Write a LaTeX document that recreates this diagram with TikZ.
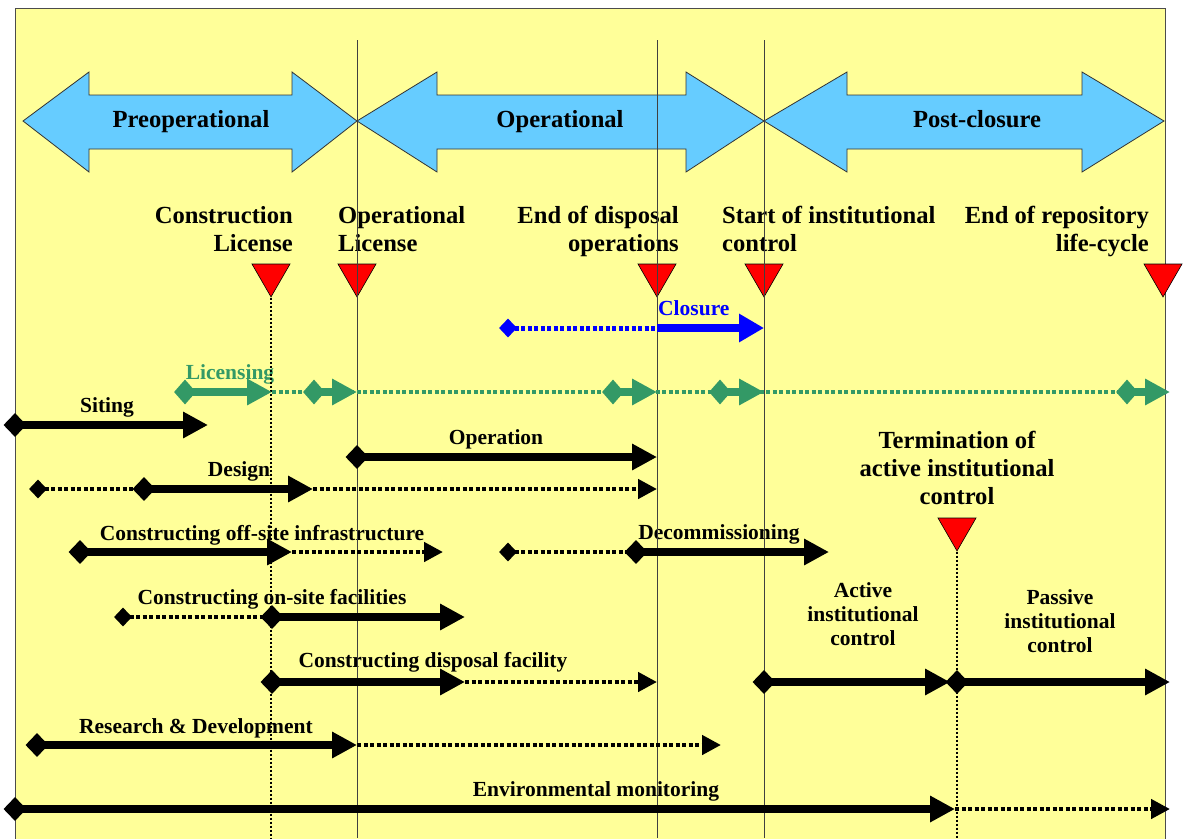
\documentclass[tikz,border=0pt]{standalone}
\usepackage{fontspec}
\setmainfont{Liberation Serif}
\usepackage{xcolor}
\usetikzlibrary{arrows.meta,shapes.geometric}

\definecolor{bgyellow}{HTML}{FFFF99}
\definecolor{phaseblue}{HTML}{66CCFF}
\definecolor{licgreen}{HTML}{339966}

\begin{document}
\begin{tikzpicture}[
x=1pt, y=-1pt,
phase/.style={draw=black!80, fill=phaseblue, line width=0.8pt},
big/.style={font=\fontsize{24.6}{28}\selectfont\bfseries, inner sep=0},
lbl/.style={font=\fontsize{21.5}{24}\selectfont\bfseries, inner sep=0},
milestone/.style={regular polygon, regular polygon sides=3, shape border rotate=180,
  minimum size=43.9pt, inner sep=0, draw=black, fill=red, line width=0.6pt},
evt/.style={diamond, fill=black, minimum width=23pt, minimum height=24pt, inner sep=0},
sevt/.style={diamond, fill=black, minimum width=18pt, minimum height=19pt, inner sep=0},
bar/.style={line width=8pt, -{Triangle[length=25pt, width=25pt]}},
dotline/.style={line width=4.5pt, dash pattern=on 4pt off 2.5pt},
dotarrow/.style={dotline, -{Triangle[length=19pt, width=19pt]}},
gevt/.style={evt, fill=licgreen, minimum width=22pt, minimum height=25pt},
gbar/.style={bar, licgreen},
cevt/.style={sevt, fill=blue},
cbar/.style={blue, line width=8.5pt, -{Triangle[length=25pt, width=27pt]}},
vline/.style={draw=black!75, line width=0.8pt},
vdots/.style={line width=2pt, dash pattern=on 2pt off 2pt}
]

\useasboundingbox (0,0) rectangle (1185,838);
\fill[bgyellow, draw=black!70, line width=0.8pt] (15,8) rectangle (1165,850);

% phases
\draw[phase] (23,121) -- (89,72) -- (89,95) -- (292,95) -- (292,72) -- (357,121)
  -- (292,172) -- (292,149) -- (89,149) -- (89,172) -- cycle;
\draw[phase] (357,121) -- (437,72) -- (437,95) -- (686,95) -- (686,72) -- (764,121)
  -- (686,172) -- (686,149) -- (437,149) -- (437,172) -- cycle;
\draw[phase] (764,121) -- (847,72) -- (847,95) -- (1082,95) -- (1082,72) -- (1164,121)
  -- (1082,172) -- (1082,149) -- (847,149) -- (847,172) -- cycle;
\node[big, anchor=base] (pre) at (191,127) {Preoperational};
\node[big, anchor=base] (op) at (560,127) {Operational};
\node[big, anchor=base] (post) at (977,127) {Post-closure};

% milestones
\node[big, align=right, anchor=north east] (lcl) at (293,206) {Construction\\License};
\node[big, align=left, anchor=north west] (lol) at (338,206) {Operational\\License};
\node[big, align=right, anchor=north east] (led) at (679,206) {End of disposal\\operations};
\node[big, align=left, anchor=north west] (lsi) at (722,206) {Start of institutional\\control};
\node[big, align=right, anchor=north east] (ler) at (1149,206) {End of repository\\life-cycle};
\node[big, align=center, anchor=north] (lterm) at (957,431) {Termination of\\active institutional\\control};

\node[milestone] (tcl) at (271,275) {};
\node[milestone] (tol) at (357,275) {};
\node[milestone] (ted) at (657,275) {};
\node[milestone] (tsi) at (764,275) {};
\node[milestone] (ter) at (1163,275) {};
\node[milestone] (tterm) at (957,529) {};

% activity labels
\node[lbl, blue, anchor=base west] (lclos) at (658,315) {Closure};
\node[lbl, licgreen, anchor=base] (llic) at (230,379) {Licensing};
\node[lbl, anchor=base] (lsit) at (107,412) {Siting};
\node[lbl, anchor=base] (lop) at (496,444) {Operation};
\node[lbl, anchor=base] (ldes) at (239,476) {Design};
\node[lbl, anchor=base] (loff) at (262,540) {Constructing off-site infrastructure};
\node[lbl, anchor=base] (ldec) at (719,539) {Decommissioning};
\node[lbl, anchor=base] (lon) at (272,604) {Constructing on-site facilities};
\node[lbl, anchor=base] (ldisp) at (433,667) {Constructing disposal facility};
\node[lbl, align=center, anchor=north] (lact) at (863,582) {Active\\institutional\\control};
\node[lbl, align=center, anchor=north] (lpas) at (1060,589) {Passive\\institutional\\control};
\node[lbl, anchor=base] (lrd) at (196,733) {Research \& Development};
\node[lbl, anchor=base] (lenv) at (596,796) {Environmental monitoring};

% time lines
\foreach \x in {357,657,764}
  \draw[vline] (\x,40) -- (\x,838);
\draw[vdots] (tcl.corner 1) -- (271,838);
\draw[vdots] (tterm.corner 1) -- (957,838);

% closure
\node[cevt] (clos0) at (508,328) {};
\coordinate (clos1) at (657,328);
\coordinate (clos2) at (764,328);
\draw[dotline, blue, line width=5pt] (clos0.center) -- (clos1);
\draw[cbar] (clos1) -- (clos2);

% licensing
\node[gevt] (lic) at (185,392) {};
\coordinate (licend) at (272,392);
\draw[gbar] (lic.center) -- (licend);
\foreach \n/\a/\b in {2/314/357, 3/613/657, 4/720/764, 5/1127/1170} {
  \node[gevt] (lic\n) at (\a,392) {};
  \coordinate (licend\n) at (\b,392);
  \draw[gbar] (lic\n.center) -- (licend\n);
}
\draw[dotline, licgreen] (licend) -- (lic5.center);

% siting
\node[evt] (sit) at (15,425) {};
\coordinate (sitend) at (208,425);
\draw[bar] (sit.center) -- (sitend);

% operation
\node[evt] (oper) at (357,457) {};
\coordinate (operend) at (657,457);
\draw[bar] (oper.center) -- (operend);

% design
\node[sevt] (des0) at (38,489) {};
\node[evt] (des) at (144,489) {};
\coordinate (desmid) at (313,489);
\coordinate (desend) at (657,489);
\draw[dotline] (des0.center) -- (des.center);
\draw[dotarrow] (desmid) -- (desend);
\draw[bar] (des.center) -- (desmid);

% off-site infrastructure
\node[evt] (off) at (80,552) {};
\coordinate (offmid) at (292,552);
\coordinate (offend) at (443,552);
\draw[dotarrow] (offmid) -- (offend);
\draw[bar] (off.center) -- (offmid);

% decommissioning
\node[sevt] (dec0) at (508,552) {};
\node[evt] (dec) at (636,552) {};
\coordinate (decend) at (829,552);
\draw[dotline] (dec0.center) -- (dec.center);
\draw[bar] (dec.center) -- (decend);

% on-site facilities
\node[sevt] (on0) at (123,617) {};
\node[evt] (on) at (272,617) {};
\coordinate (onend) at (465,617);
\draw[dotline] (on0.center) -- (on.center);
\draw[bar] (on.center) -- (onend);

% disposal facility
\node[evt] (disp) at (272,682) {};
\coordinate (dispmid) at (465,682);
\coordinate (dispend) at (657,682);
\draw[dotarrow] (dispmid) -- (dispend);
\draw[bar] (disp.center) -- (dispmid);

% institutional control
\node[evt] (act) at (764,682) {};
\coordinate (actend) at (950,682);
\draw[bar] (act.center) -- (actend);
\node[evt] (pas) at (957,682) {};
\coordinate (pasend) at (1170,682);
\draw[bar] (pas.center) -- (pasend);

% research and development
\node[evt] (rd) at (37,745) {};
\coordinate (rdmid) at (357,745);
\coordinate (rdend) at (721,745);
\draw[dotarrow] (rdmid) -- (rdend);
\draw[bar] (rd.center) -- (rdmid);

% monitoring
\node[evt] (env) at (15,809) {};
\coordinate (envmid) at (955,809);
\coordinate (envend) at (1170,809);
\draw[dotarrow] (envmid) -- (envend);
\draw[bar] (env.center) -- (envmid);

\end{tikzpicture}
\end{document}
